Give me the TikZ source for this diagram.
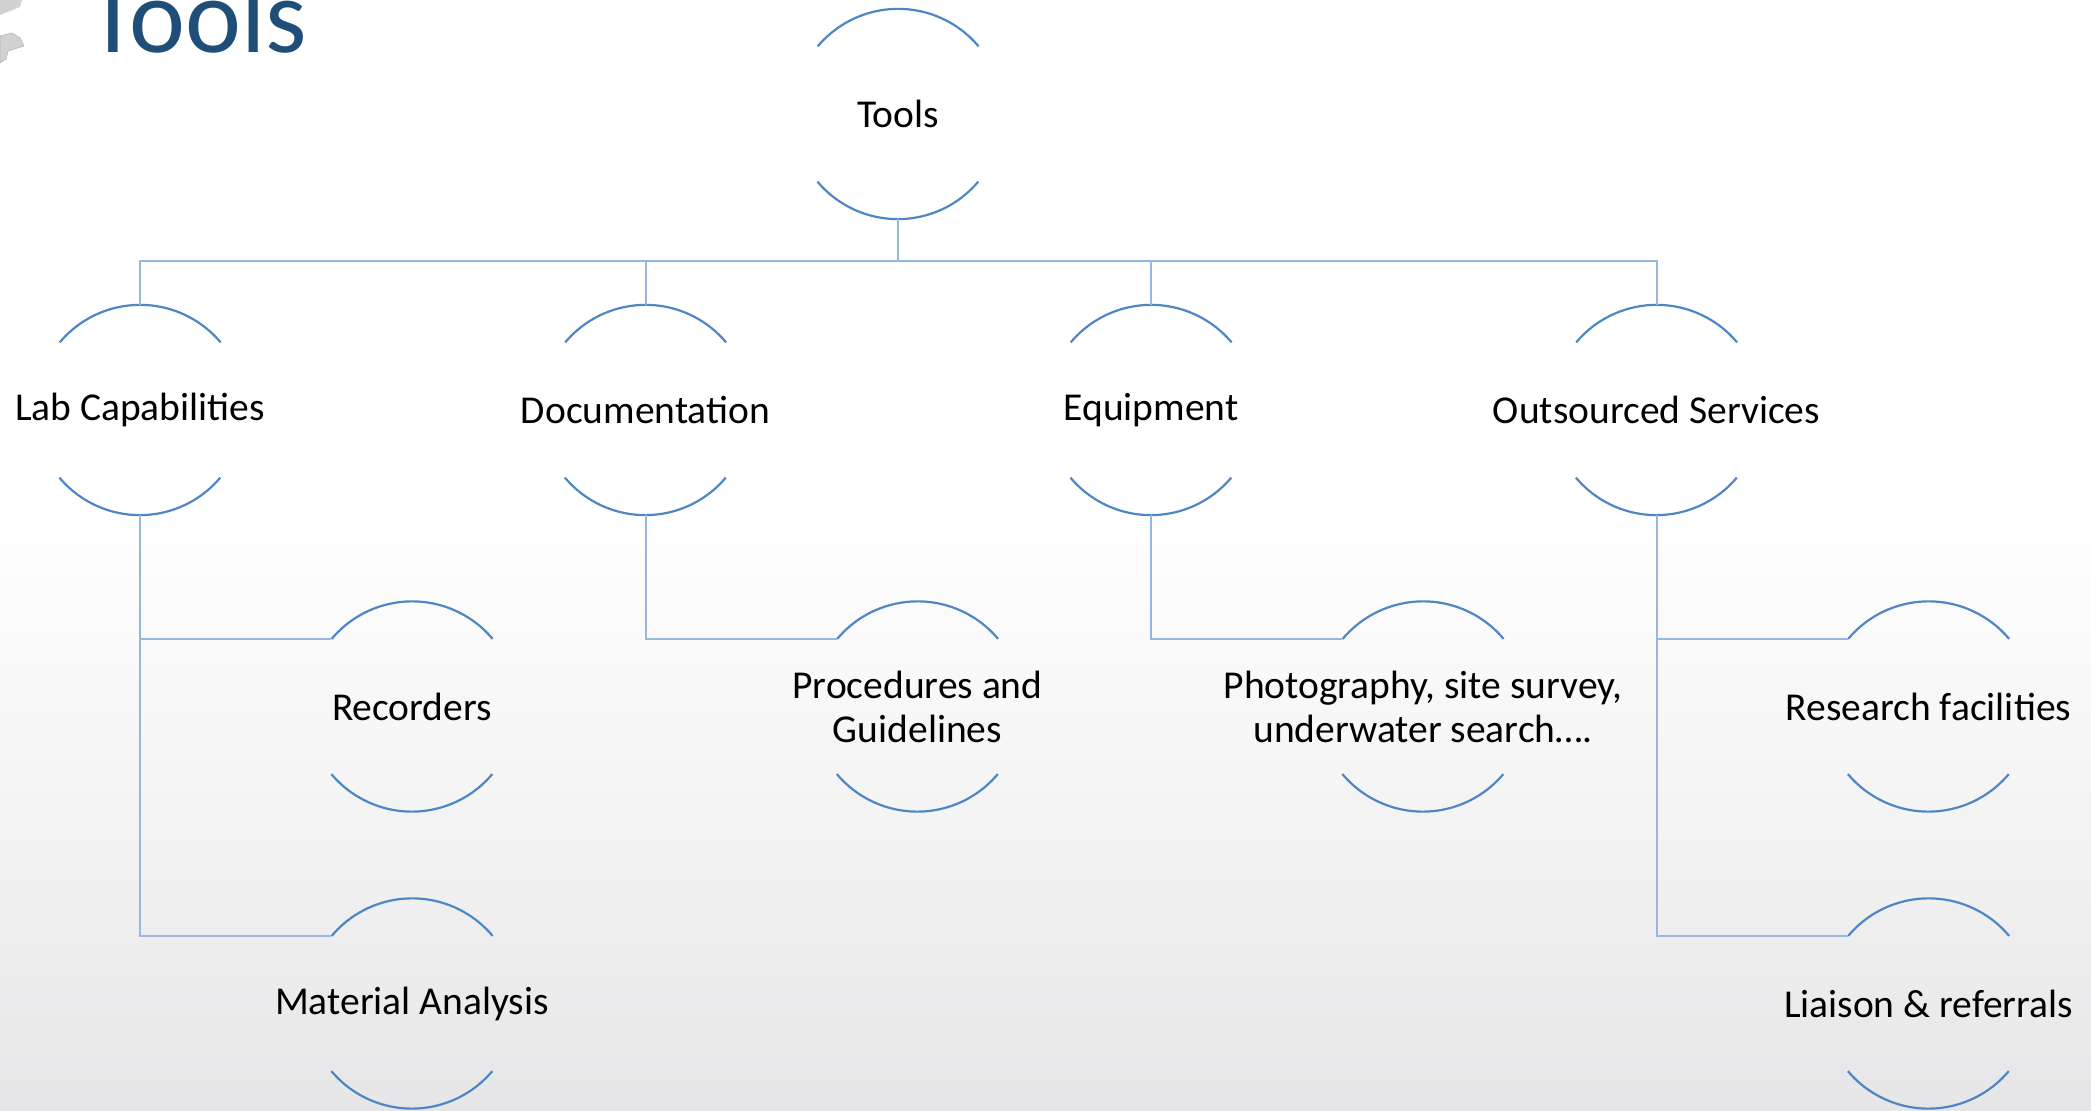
\documentclass[tikz,border=0pt]{standalone}
\usepackage{fontspec}
\setmainfont{Carlito}
\definecolor{arcblue}{RGB}{79,134,196}
\definecolor{linkblue}{RGB}{149,183,226}
\definecolor{titleblue}{RGB}{31,78,121}
\definecolor{cloud}{RGB}{230,230,232}
\begin{document}
\begin{tikzpicture}[x=1pt,y=1pt,
  hub/.style={circle,minimum size=210pt,inner sep=0pt,
    label={[align=center,inner sep=0pt,font=\fontsize{39.5}{44}\selectfont,text=black]center:#1}},
  arcs/.style={draw=arcblue,line width=2.2pt},
  link/.style={draw=linkblue,line width=2pt}]
\useasboundingbox (0,0) rectangle (2091,1111);
% background clouds
\fill[white] (0,0) rectangle (2091,1111);
\shade[top color=white,bottom color=cloud,middle color=white!55!cloud] (0,0) rectangle (2091,600);
% top-left grey fragment
\fill[gray!35] (0,1111) -- (22,1111) -- (20,1104) -- (0,1096) -- cycle;
\fill[gray!35,draw=gray!60,line width=0.6pt] (0,1075) -- (12,1078) -- (20,1073) -- (24,1065) -- (8,1060) -- (6,1052) -- (0,1048) -- cycle;
% title
\node[anchor=base west,inner sep=0pt,text=titleblue,font=\fontsize{106}{110}\selectfont] (title) at (87,1058) {Tools};
% nodes
\node[hub=Tools] (tools) at (898,997) {};
\node[hub=Lab Capabilities] (lab) at (140,701) {};
\node[hub=Documentation] (doc) at (645.5,701) {};
\node[hub=Equipment] (equ) at (1151,701) {};
\node[hub=Outsourced Services] (out) at (1656.5,701) {};
\node[hub=Recorders] (rec) at (412,404.5) {};
\node[hub=Material Analysis] (mat) at (412,107.5) {};
\node[hub={Procedures and\\Guidelines}] (proc) at (917.5,404.5) {};
\node[hub={Photography, site survey,\\underwater search….}] (photo) at (1423,404.5) {};
\node[hub=Research facilities] (res) at (1928.5,404.5) {};
\node[hub=Liaison \& referrals] (lia) at (1928.5,107.5) {};
% arcs
\foreach \n in {tools,lab,doc,equ,out,rec,mat,proc,photo,res,lia}{
  \draw[arcs] (\n.40) arc[start angle=40,end angle=140,radius=105pt];
  \draw[arcs] (\n.220) arc[start angle=220,end angle=320,radius=105pt];
}
% connectors
\coordinate (bar) at (0,849.6);
\draw[link] (tools.south) -- (tools.south |- bar);
\draw[link] (lab.north) -- (lab.north |- bar) -- (out.north |- bar) -- (out.north);
\draw[link] (doc.north) -- (doc.north |- bar);
\draw[link] (equ.north) -- (equ.north |- bar);
\draw[link] (lab.south) |- (rec.140);
\draw[link] (lab.south) |- (mat.140);
\draw[link] (doc.south) |- (proc.140);
\draw[link] (equ.south) |- (photo.140);
\draw[link] (out.south) |- (res.140);
\draw[link] (out.south) |- (lia.140);
\end{tikzpicture}
\end{document}
